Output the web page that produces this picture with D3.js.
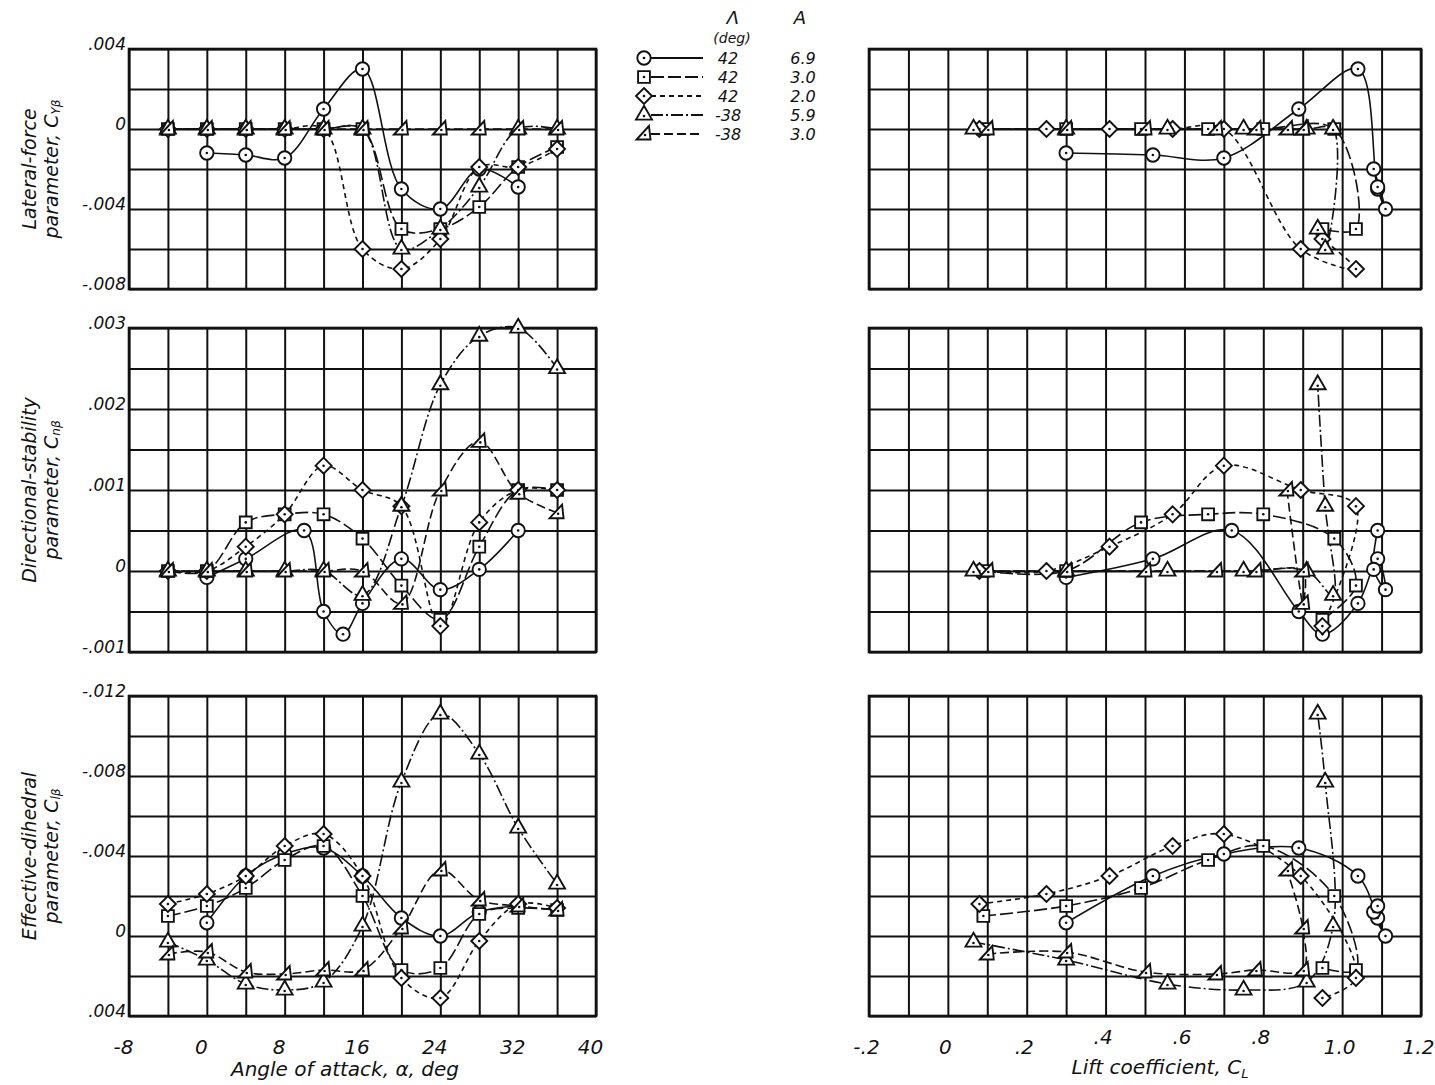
<!DOCTYPE html>
<html>
<head>
<meta charset="utf-8">
<script src="https://cdn.jsdelivr.net/npm/d3@7"></script>
<style>
  body { margin: 0; background: #fff; }
  text { font-family: "DejaVu Sans", sans-serif; font-style: italic; fill: #111; }
</style>
</head>
<body>
<svg id="chart" width="1435" height="1085"></svg>
<script>
// ---- data ----
// sweep 42 deg, A = 5.9 (circles)
const alphaA = [0, 4, 8, 10, 12, 14, 16, 20, 24, 28, 32];
const liftA  = [0.30, 0.52, 0.70, 0.72, 0.89, 0.95, 1.04, 1.09, 1.11, 1.08, 1.09];
const cyA    = [-0.0012, -0.0013, -0.00145, null, 0.001, null, 0.003, -0.003, -0.004, -0.002, -0.0029];
const cnA    = [-0.00008, 0.00015, null, 0.0005, -0.0005, -0.00078, -0.0004, 0.00015, -0.00023, 0.00002, 0.0005];
const clA    = [-0.00066, -0.003, -0.0041, null, -0.0044, null, -0.003, -0.0009, 0.0, -0.0012, -0.0015];

// the other four configurations share these angles
const alphaStd = [-4, 0, 4, 8, 12, 16, 20, 24, 28, 32, 36];

// sweep 42 deg, A = 3.0 (squares)
const liftB = [0.09, 0.30, 0.49, 0.66, 0.80, 0.98, 1.035, 0.95, null, null, null];
const cyB   = [0, 0, 0, 0, 0, 0, -0.005, -0.005, -0.0039, -0.0019, -0.0009];
const cnB   = [0, 0, 0.0006, 0.0007, 0.0007, 0.0004, -0.00018, -0.0006, 0.0003, 0.001, 0.001];
const clB   = [-0.001, -0.0015, -0.0024, -0.0038, -0.0045, -0.002, 0.0017, 0.0016, -0.0011, -0.0014, -0.0013];

// sweep 42 deg, A = 2.0 (diamonds)
const liftC = [0.08, 0.25, 0.41, 0.57, 0.70, 0.895, 1.035, 0.95, null, null, null];
const cyC   = [0, 0, 0, 0, 0, -0.006, -0.007, -0.0055, -0.0019, -0.0019, -0.001];
const cnC   = [0, 0, 0.0003, 0.0007, 0.0013, 0.001, 0.0008, -0.00068, 0.0006, 0.001, 0.001];
const clC   = [-0.0016, -0.0021, -0.003, -0.0045, -0.0051, -0.003, 0.0021, 0.0031, 0.00025, -0.0016, -0.0014];

// sweep -38 deg, A = 5.9 (triangles)
const liftD = [0.065, 0.30, 0.557, 0.75, 0.91, 0.977, 0.957, 0.938, null, null, null];
const cyD   = [0, 0, 0, 0, 0, 0, -0.006, -0.005, -0.0029, 0, 0];
const cnD   = [0, 0, 0, 0, 0, -0.0003, 0.0008, 0.0023, 0.0029, 0.003, 0.0025];
const clD   = [0.0003, 0.0012, 0.0024, 0.0027, 0.0023, -0.0005, -0.0077, -0.0111, -0.0091, -0.0054, -0.0026];

// sweep -38 deg, A = 3.0 (flagged triangles)
const liftE = [0.10, 0.30, 0.50, 0.68, 0.78, 0.90, 0.90, 0.86, null, null, null];
const cyE   = [0, 0, 0, 0, 0, 0, 0, 0, 0, 0, 0];
const cnE   = [0, 0, 0, 0, 0, 0, -0.0004, 0.001, 0.0016, 0.00096, 0.00072];
const clE   = [0.0009, 0.0008, 0.0018, 0.0019, 0.0017, 0.0017, -0.0004, -0.0033, -0.0018, -0.0015, -0.0013];

// tick labels
const alphaTicks = [-8, 0, 8, 16, 24, 32, 40];
const liftTicks  = [-0.2, 0, 0.2, 0.4, 0.6, 0.8, 1.0, 1.2];
const cyTicks    = [0.004, 0, -0.004, -0.008];
const cnTicks    = [0.003, 0.002, 0.001, 0, -0.001];
const clTicks    = [-0.012, -0.008, -0.004, 0, 0.004];

const series = [
  { sym: 'circle',   dash: null,       sweep: '42',  aspect: '6.9', alpha: alphaA,   lift: liftA, cy: cyA, cn: cnA, cl: clA },
  { sym: 'square',   dash: '13,4',     sweep: '42',  aspect: '3.0', alpha: alphaStd, lift: liftB, cy: cyB, cn: cnB, cl: clB },
  { sym: 'diamond',  dash: '5,4',      sweep: '42',  aspect: '2.0', alpha: alphaStd, lift: liftC, cy: cyC, cn: cnC, cl: clC },
  { sym: 'triangle', dash: '12,3,2,3', sweep: '-38', aspect: '5.9', alpha: alphaStd, lift: liftD, cy: cyD, cn: cnD, cl: clD },
  { sym: 'flag',     dash: '9,4',      sweep: '-38', aspect: '3.0', alpha: alphaStd, lift: liftE, cy: cyE, cn: cnE, cl: clE }
];

// ---- layout ----
const svg = d3.select('#chart');

const xAlpha = d3.scaleLinear().domain([-8, 40]).range([129, 596]);
const xLift  = d3.scaleLinear().domain([-0.2, 1.2]).range([869, 1421]);

const rows = [
  { key: 'cy', y: d3.scaleLinear().domain([-0.008, 0.004]).range([289, 49]),
    grid: d3.range(-8, 5, 2).map(d => d / 1000), ticks: cyTicks,
    title: ['Lateral-force', 'parameter, C', 'Yβ'] },
  { key: 'cn', y: d3.scaleLinear().domain([-0.001, 0.003]).range([652, 328]),
    grid: d3.range(-2, 7).map(d => d / 2000), ticks: cnTicks,
    title: ['Directional-stability', 'parameter, C', 'nβ'] },
  { key: 'cl', y: d3.scaleLinear().domain([0.004, -0.012]).range([1016, 696]),
    grid: d3.range(-12, 5, 2).map(d => d / 1000), ticks: clTicks,
    title: ['Effective-dihedral', 'parameter, C', 'lβ'] }
];

// old drafting style: no leading zero, plain hyphen for minus
const fmtC = v => v === 0 ? '0' : (v < 0 ? '-' : '') + d3.format('.3f')(Math.abs(v)).replace(/^0/, '');
const fmtL = v => v === 0 ? '0' : (v < 0 ? '-' : '') + d3.format('.1f')(Math.abs(v)).replace(/^0/, '');

function symbolPath(sym) {
  if (sym === 'circle') return d3.symbol(d3.symbolCircle).size(140)();
  if (sym === 'square') return d3.symbol(d3.symbolSquare).size(140)();
  if (sym === 'diamond') return 'M0,-8L8,0L0,8L-8,0Z';
  if (sym === 'triangle') return d3.symbol(d3.symbolTriangle).size(110)();
  return 'M5,-8L6.5,5.5L-7.5,5.5Z';
}

function drawMarker(g, sym, cx, cy) {
  const m = g.append('g').attr('transform', `translate(${cx},${cy})`);
  m.append('path').attr('d', symbolPath(sym))
    .attr('fill', '#fff').attr('stroke', '#111').attr('stroke-width', 1.9);
  m.append('circle').attr('cx', sym === 'flag' ? 1 : 0).attr('cy', sym === 'triangle' || sym === 'flag' ? 1 : 0)
    .attr('r', 1.3).attr('fill', '#111');
}

function drawPanel(x, xGrid, row, xKey) {
  const y = row.y;
  const [y0, y1] = y.range();
  const [x0, x1] = x.range();
  const g = svg.append('g');

  g.append('g')
    .attr('transform', `translate(0,${y0})`)
    .call(d3.axisBottom(x).tickValues(xGrid).tickSize(-(y0 - y1)).tickFormat(''))
    .call(a => a.select('.domain').remove())
    .selectAll('line').attr('stroke', '#111').attr('stroke-width', 2);

  g.append('g')
    .attr('transform', `translate(${x0},0)`)
    .call(d3.axisLeft(y).tickValues(row.grid).tickSize(-(x1 - x0)).tickFormat(''))
    .call(a => a.select('.domain').remove())
    .selectAll('line').attr('stroke', '#111').attr('stroke-width', 2);

  g.append('rect')
    .attr('x', x0).attr('y', y1).attr('width', x1 - x0).attr('height', y0 - y1)
    .attr('fill', 'none').attr('stroke', '#111').attr('stroke-width', 2.6);

  const line = d3.line().x(d => x(d.x)).y(d => y(d.y)).curve(d3.curveCatmullRom.alpha(0.5));
  const pts = series.map(s => s.alpha.map((a, i) => ({ x: xKey === 'alpha' ? a : s.lift[i], y: s[row.key][i] }))
    .filter(p => p.x != null && p.y != null));

  series.forEach((s, k) => {
    g.append('path').attr('d', line(pts[k]))
      .attr('fill', 'none').attr('stroke', '#111').attr('stroke-width', 1.6)
      .attr('stroke-dasharray', s.dash);
  });
  series.forEach((s, k) => {
    pts[k].forEach(p => drawMarker(g, s.sym, x(p.x), y(p.y)));
  });
  return g;
}

rows.forEach(row => {
  drawPanel(xAlpha, d3.range(-8, 41, 4), row, 'alpha');
  drawPanel(xLift, d3.range(-2, 13).map(d => d / 10), row, 'lift');

  // y tick labels (left column only)
  svg.append('g')
    .attr('transform', `translate(${xAlpha.range()[0]},-5)`)
    .call(d3.axisLeft(row.y).tickValues(row.ticks).tickSize(0).tickPadding(3).tickFormat(fmtC))
    .call(a => a.select('.domain').remove())
    .selectAll('text').attr('font-size', 17).attr('font-family', null);

  // y title, two rotated lines
  const cyMid = (row.y.range()[0] + row.y.range()[1]) / 2;
  svg.append('text')
    .attr('transform', `translate(29,${cyMid}) rotate(-90)`)
    .attr('text-anchor', 'middle').attr('dominant-baseline', 'central')
    .attr('font-size', 19).text(row.title[0]);
  const t2 = svg.append('text')
    .attr('transform', `translate(51,${cyMid}) rotate(-90)`)
    .attr('text-anchor', 'middle').attr('dominant-baseline', 'central')
    .attr('font-size', 19);
  t2.append('tspan').text(row.title[1]);
  t2.append('tspan').attr('font-size', 12).attr('dy', 5).text(row.title[2]);
});

// x tick labels
svg.append('g')
  .attr('transform', 'translate(-6,1016)')
  .call(d3.axisBottom(xAlpha).tickValues(alphaTicks).tickSize(0).tickPadding(24).tickFormat(d3.format('d')))
  .call(a => a.select('.domain').remove())
  .selectAll('text').attr('font-size', 20).attr('font-family', null)
  .text(d => (d < 0 ? '-' : '') + Math.abs(d));

svg.append('g')
  .attr('transform', 'translate(-3,1016)')
  .call(d3.axisBottom(xLift).tickValues(liftTicks).tickSize(0).tickPadding(24).tickFormat(fmtL))
  .call(a => a.select('.domain').remove())
  .selectAll('text').attr('font-size', 20).attr('font-family', null)
  .attr('dy', d => (d > 0.3 && d < 0.9) ? '0.2em' : '0.71em');

svg.append('text').attr('x', 345).attr('y', 1076).attr('text-anchor', 'middle')
  .attr('font-size', 20).text('Angle of attack, α, deg');

const lt = svg.append('text').attr('x', 1160).attr('y', 1074).attr('text-anchor', 'middle')
  .attr('font-size', 20);
lt.append('tspan').text('Lift coefficient, C');
lt.append('tspan').attr('font-size', 13).attr('dy', 4).text('L');

// ---- legend ----
const legend = svg.append('g');
legend.append('text').attr('x', 733).attr('y', 24).attr('text-anchor', 'middle').attr('font-size', 18).text('Λ');
legend.append('text').attr('x', 732).attr('y', 43).attr('text-anchor', 'middle').attr('font-size', 14).text('(deg)');
legend.append('text').attr('x', 800).attr('y', 24).attr('text-anchor', 'middle').attr('font-size', 18).text('A');

series.forEach((s, i) => {
  const ry = 58 + i * 19;
  legend.append('line').attr('x1', 651).attr('x2', 703).attr('y1', ry).attr('y2', ry)
    .attr('stroke', '#111').attr('stroke-width', 1.8).attr('stroke-dasharray', s.dash);
  drawMarker(legend, s.sym, 644, ry);
  legend.append('text').attr('x', 728).attr('y', ry).attr('dy', '0.35em').attr('text-anchor', 'middle')
    .attr('font-size', 16).text(s.sweep);
  legend.append('text').attr('x', 803).attr('y', ry).attr('dy', '0.35em').attr('text-anchor', 'middle')
    .attr('font-size', 16).text(s.aspect);
});
</script>
</body>
</html>
